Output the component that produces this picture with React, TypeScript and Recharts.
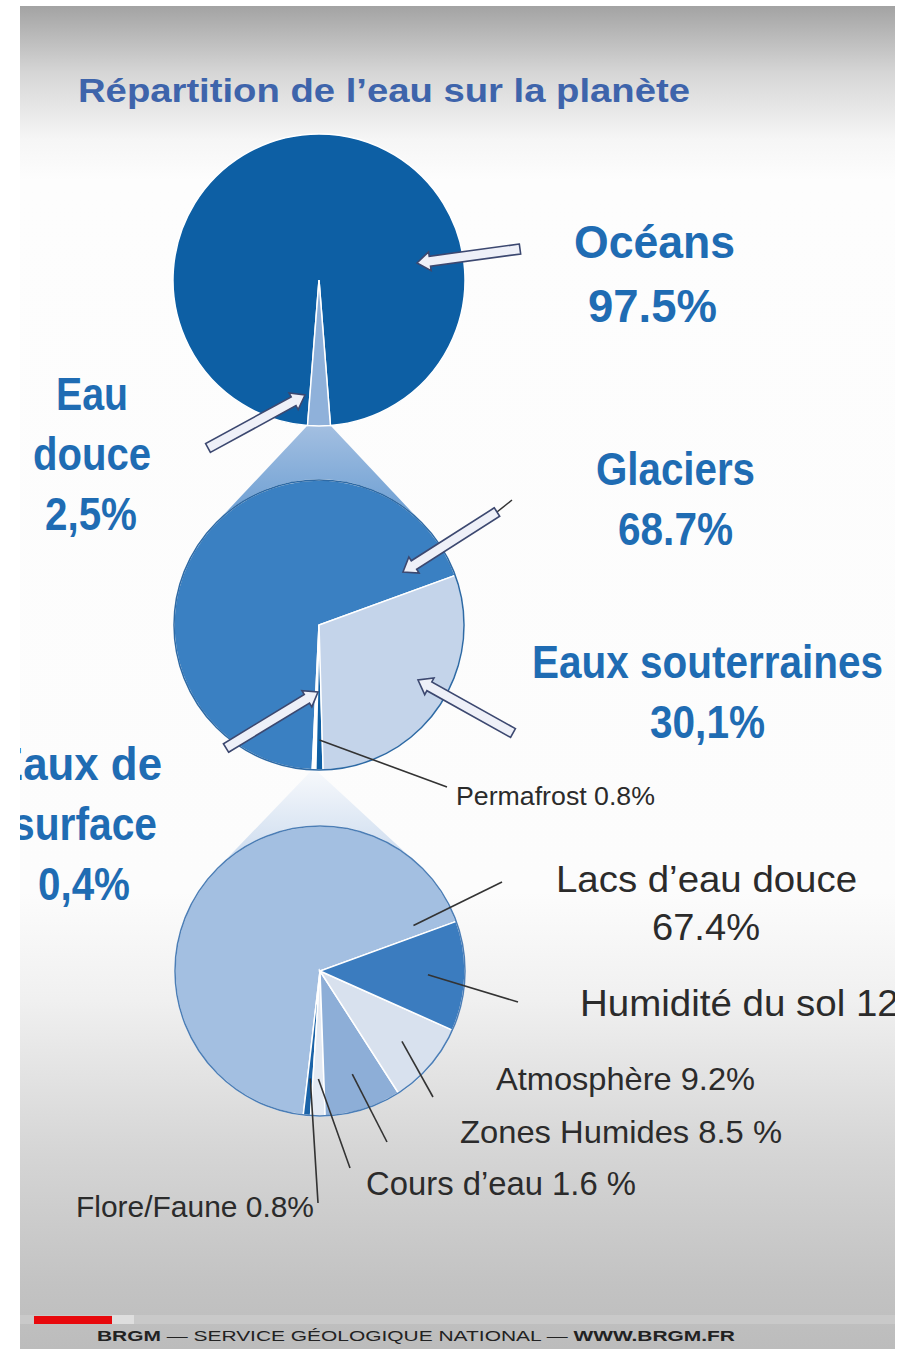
import { PieChart, Pie, Cell } from "recharts";

// pie 1: all water
const oceanNames = ["Océans", "Eau douce"];
const oceanValues = [97.5, 2.5];
const oceanColors = ["#0d5fa4", "#8fb1da"];

// pie 2: fresh water
const freshNames = ["Glaciers", "Eaux de surface", "Permafrost", "Eaux souterraines"];
const freshValues = [68.7, 0.4, 0.8, 30.1];
const freshColors = ["#3a80c2", "#ffffff", "#0f5fa3", "#c4d4ea"];

// pie 3: surface water
const surfaceNames = ["Lacs d'eau douce", "Flore/Faune", "Cours d'eau", "Zones Humides", "Atmosphère", "Humidité du sol"];
const surfaceValues = [67.4, 0.8, 1.6, 8.5, 9.2, 12.2];
const surfaceColors = ["#a3bfe1", "#1a63a8", "#e4eaf3", "#8daed7", "#d8e1ee", "#3b7cbf"];

const FONT = "'Liberation Sans', Arial, sans-serif";
const BLUE = "#1f6cb3";

const P1 = { cx: 319, cy: 280, r: 146, start: -85.5 };
const P2 = { cx: 319, cy: 625, r: 145, start: 20 };
const P3 = { cx: 320, cy: 971, r: 145, start: 20 };

const toRows = (names: string[], values: number[]) => names.map((name, i) => ({ name, value: values[i] }));

// angle range of slice i (recharts convention, degrees, counterclockwise)
function sliceAngles(values: number[], start: number, i: number) {
  const total = values.reduce((s, v) => s + v, 0);
  const before = values.slice(0, i).reduce((s, v) => s + v, 0);
  const a0 = start + (before / total) * 360;
  return [a0, a0 + (values[i] / total) * 360];
}

function polar(cx: number, cy: number, r: number, deg: number) {
  const a = (deg * Math.PI) / 180;
  return { x: cx + r * Math.cos(a), y: cy - r * Math.sin(a) };
}

function tangent(p: { x: number; y: number }, c: { cx: number; cy: number; r: number }, side: number) {
  const dx = c.cx - p.x, dy = c.cy - p.y;
  const d = Math.hypot(dx, dy);
  const alpha = Math.asin(c.r / d);
  const len = Math.sqrt(d * d - c.r * c.r);
  const th = Math.atan2(dy, dx) + (side < 0 ? alpha : -alpha);
  return { x: p.x + len * Math.cos(th), y: p.y + len * Math.sin(th) };
}

function funnel(values: number[], from: typeof P1, idx: number, to: typeof P2) {
  const [a0, a1] = sliceAngles(values, from.start, idx);
  const pa = polar(from.cx, from.cy, from.r, a0);
  const pb = polar(from.cx, from.cy, from.r, a1);
  const left = pa.x < pb.x ? pa : pb;
  const right = pa.x < pb.x ? pb : pa;
  const tl = tangent(left, to, -1);
  const tr = tangent(right, to, 1);
  return [left, right, tr, { x: to.cx, y: to.cy }, tl].map((p) => `${p.x},${p.y}`).join(" ");
}

function arrowPts(tx: number, ty: number, hx: number, hy: number, sw = 10, hw = 19, hl = 13) {
  const len = Math.hypot(hx - tx, hy - ty);
  const ux = (hx - tx) / len, uy = (hy - ty) / len;
  const nx = -uy, ny = ux;
  const bx = hx - ux * hl, by = hy - uy * hl;
  const pts = [
    [tx + (nx * sw) / 2, ty + (ny * sw) / 2],
    [bx + (nx * sw) / 2, by + (ny * sw) / 2],
    [bx + (nx * hw) / 2, by + (ny * hw) / 2],
    [hx, hy],
    [bx - (nx * hw) / 2, by - (ny * hw) / 2],
    [bx - (nx * sw) / 2, by - (ny * sw) / 2],
    [tx - (nx * sw) / 2, ty - (ny * sw) / 2],
  ];
  return pts.map((p) => p.join(",")).join(" ");
}

const arrows = [
  [520, 249, 417, 263],
  [208, 448, 305, 395],
  [497, 512, 403, 572],
  [513, 733, 418, 680],
  [226, 748, 318, 692],
];

function Label({ x, y, w, size, text, bold = false, color = "#2b2b2b" }: any) {
  return (
    <text x={x} y={y} textLength={w} lengthAdjust="spacingAndGlyphs" fontSize={size}
      fontWeight={bold ? 700 : 400} fill={color} fontFamily={FONT}>
      {text}
    </text>
  );
}

export default function App() {
  const mid = (i: number) => {
    const [a0, a1] = sliceAngles(surfaceValues, P3.start, i);
    return polar(P3.cx, P3.cy, 108, (a0 + a1) / 2);
  };
  const perma = (() => {
    const [a0, a1] = sliceAngles(freshValues, P2.start, 2);
    return polar(P2.cx, P2.cy, 115, (a0 + a1) / 2);
  })();
  const lacs = polar(P3.cx, P3.cy, 104, 26);
  const leaders = [
    [perma.x, perma.y, 447, 787],
    [lacs.x, lacs.y, 502, 882],
    [mid(5).x, mid(5).y, 518, 1002],
    [mid(4).x, mid(4).y, 433, 1097],
    [mid(3).x, mid(3).y, 387, 1142],
    [mid(2).x, mid(2).y, 350, 1168],
    [mid(1).x, mid(1).y, 318, 1203],
  ];

  return (
    <div style={{ position: "absolute", left: 0, top: 0, width: 900, height: 1349, background: "#ffffff" }}>
      <div style={{
        position: "absolute", left: 20, top: 6, width: 875, height: 1343, overflow: "hidden",
        background: "linear-gradient(to bottom, #a3a3a3 0%, #d6d6d6 5%, #f6f6f6 10%, #fdfdfd 13%, #fcfcfc 66%, #f0f0f0 74%, #d6d6d6 85%, #c3c3c3 95%, #bcbcbc 100%)",
      }}>
        <div style={{ position: "absolute", left: -20, top: -6, width: 900, height: 1349 }}>
          <svg width={900} height={1349} style={{ position: "absolute", left: 0, top: 0 }}>
            <defs>
              <linearGradient id="f1" x1="0" y1="0" x2="0" y2="1">
                <stop offset="0%" stopColor="#a3bfe1" />
                <stop offset="45%" stopColor="#6d9fd3" />
                <stop offset="100%" stopColor="#4f8bc9" />
              </linearGradient>
              <linearGradient id="f2" x1="0" y1="0" x2="0" y2="1">
                <stop offset="0%" stopColor="#f7f9fc" />
                <stop offset="100%" stopColor="#97b7de" />
              </linearGradient>
            </defs>
            <polygon points={funnel(oceanValues, P1, 1, P2)} fill="url(#f1)" />
            <polygon points={funnel(freshValues, P2, 1, P3)} fill="url(#f2)" />
          </svg>

          <div style={{ position: "absolute", left: 0, top: 0 }}>
            <PieChart width={900} height={1349} margin={{ top: 0, right: 0, bottom: 0, left: 0 }}>
              <Pie data={toRows(oceanNames, oceanValues)} dataKey="value" cx={P1.cx} cy={P1.cy}
                outerRadius={P1.r} startAngle={P1.start} endAngle={P1.start + 360}
                stroke="#ffffff" strokeWidth={1.5} isAnimationActive={false}>
                {oceanValues.map((_, i) => <Cell key={i} fill={oceanColors[i]} />)}
              </Pie>
              <Pie data={toRows(freshNames, freshValues)} dataKey="value" cx={P2.cx} cy={P2.cy}
                outerRadius={P2.r} startAngle={P2.start} endAngle={P2.start + 360}
                stroke="#ffffff" strokeWidth={1.5} isAnimationActive={false}>
                {freshValues.map((_, i) => <Cell key={i} fill={freshColors[i]} />)}
              </Pie>
              <Pie data={toRows(surfaceNames, surfaceValues)} dataKey="value" cx={P3.cx} cy={P3.cy}
                outerRadius={P3.r} startAngle={P3.start} endAngle={P3.start + 360}
                stroke="#ffffff" strokeWidth={1.5} isAnimationActive={false}>
                {surfaceValues.map((_, i) => <Cell key={i} fill={surfaceColors[i]} />)}
              </Pie>
            </PieChart>
          </div>

          <svg width={900} height={1349} style={{ position: "absolute", left: 0, top: 0 }}>
            <circle cx={P2.cx} cy={P2.cy} r={P2.r} fill="none" stroke="#2e6aa5" strokeWidth={1.5} />
            <circle cx={P3.cx} cy={P3.cy} r={P3.r} fill="none" stroke="#4c7eb6" strokeWidth={1.5} />

            {leaders.map((l, i) => (
              <line key={i} x1={l[0]} y1={l[1]} x2={l[2]} y2={l[3]} stroke="#333333" strokeWidth={1.6} />
            ))}
            <line x1={497} y1={512} x2={512} y2={500} stroke="#333333" strokeWidth={1.5} />
            {arrows.map((a, i) => (
              <polygon key={i} points={arrowPts(a[0], a[1], a[2], a[3])} fill="#eef0f8" stroke="#3c4870" strokeWidth={1.6} strokeLinejoin="miter" />
            ))}

            <Label x={78} y={102} w={612} size={34} bold color="#3e64ab" text="Répartition de l’eau sur la planète" />

            <Label x={574} y={258} w={161} size={46} bold color={BLUE} text="Océans" />
            <Label x={588} y={322} w={129} size={46} bold color={BLUE} text="97.5%" />
            <Label x={56} y={410} w={72} size={46} bold color={BLUE} text="Eau" />
            <Label x={33} y={470} w={118} size={46} bold color={BLUE} text="douce" />
            <Label x={45} y={530} w={92} size={46} bold color={BLUE} text="2,5%" />
            <Label x={596} y={485} w={159} size={46} bold color={BLUE} text="Glaciers" />
            <Label x={618} y={545} w={115} size={46} bold color={BLUE} text="68.7%" />
            <Label x={532} y={678} w={351} size={46} bold color={BLUE} text="Eaux souterraines" />
            <Label x={650} y={738} w={115} size={46} bold color={BLUE} text="30,1%" />
            <Label x={-6} y={780} w={168} size={46} bold color={BLUE} text="Eaux de" />
            <Label x={12} y={840} w={145} size={46} bold color={BLUE} text="surface" />
            <Label x={38} y={900} w={92} size={46} bold color={BLUE} text="0,4%" />

            <Label x={456} y={805} w={199} size={25} text="Permafrost 0.8%" />
            <Label x={556} y={892} w={301} size={37} text="Lacs d’eau douce" />
            <Label x={652} y={940} w={108} size={37} text="67.4%" />
            <Label x={580} y={1016} w={385} size={37} text="Humidité du sol 12.2%" />
            <Label x={496} y={1090} w={259} size={32} text="Atmosphère 9.2%" />
            <Label x={460} y={1143} w={322} size={32} text="Zones Humides 8.5 %" />
            <Label x={366} y={1195} w={270} size={33} text="Cours d’eau 1.6 %" />
            <Label x={76} y={1217} w={238} size={29} text="Flore/Faune 0.8%" />

            <rect x={20} y={1315} width={880} height={9} fill="#c9c9c9" />
            <rect x={112} y={1315} width={22} height={9} fill="#dedede" />
            <rect x={34} y={1316} width={78} height={8} fill="#e8080c" />
            <text x={97} y={1341} textLength={638} lengthAdjust="spacingAndGlyphs" fontSize={15} fill="#222222" fontFamily={FONT}>
              <tspan fontWeight={700}>BRGM</tspan> — SERVICE GÉOLOGIQUE NATIONAL — <tspan fontWeight={700}>WWW.BRGM.FR</tspan>
            </text>
          </svg>
        </div>
      </div>
    </div>
  );
}
